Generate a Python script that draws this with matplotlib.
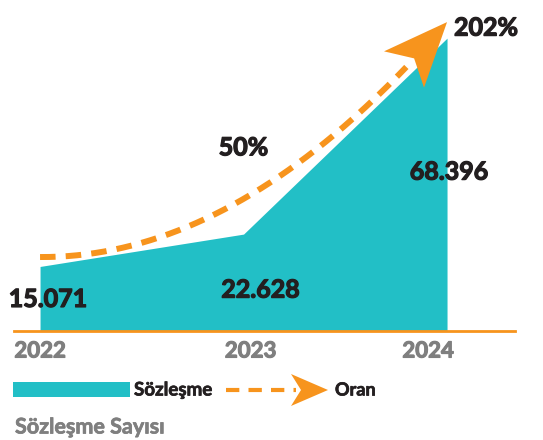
import numpy as np
import matplotlib
matplotlib.use("Agg")
from matplotlib import pyplot as plt
from matplotlib import patheffects as pe
from matplotlib.patches import Polygon, Rectangle
from matplotlib.transforms import IdentityTransform, offset_copy

years = ["2022", "2023", "2024"]
contracts = [15.071, 22.628, 68.396]
contract_labels = ["15.071", "22.628", "68.396"]
rates = [0, 50, 202]
rate_labels = ["", "50%", "202%"]

TEAL = "#22BFC6"
ORANGE = "#F7941D"
DARK = "#231F20"
GREY = "#7F7F7F"
W, H = 543, 440

plt.rcParams["font.family"] = ["Lato", "DejaVu Sans"]

fig = plt.figure(figsize=(W / 100, H / 100), dpi=100)
ax = fig.add_axes([14 / W, 109 / H, 501 / W, 331 / H])
ax2 = ax.twinx()

x = np.arange(len(years))
ax.fill_between(x, 0, contracts, color=TEAL, lw=0)
ax.set_xlim(-0.128, 2.334)
ax.set_ylim(0, 77.3)
ax2.set_ylim(-63.6, 221)

for a in (ax, ax2):
    a.set_axis_off()
ax.axhline(0, color=ORANGE, lw=2, clip_on=False)

# rate curve (quadratic through the three rate points)
coef = np.polyfit(x, rates, 2)
xs = np.linspace(0, 1.8, 200)
ax2.plot(xs, np.polyval(coef, xs), color=ORANGE, lw=4.3, dashes=(2.6, 1.7),
         solid_capstyle="butt", dash_capstyle="butt")


def stealth(tip, direction, length, half_w, notch):
    d = np.asarray(direction, float)
    d = d / np.hypot(*d)
    n = np.array([-d[1], d[0]])
    tip = np.asarray(tip, float)
    base = tip - d * length
    return [tip, base + n * half_w, tip - d * (length - notch), base - n * half_w]


# main arrowhead, in pixels
tip = ax2.transData.transform((2, rates[-1]))
p0 = ax2.transData.transform((1.8, np.polyval(coef, 1.8)))
head = stealth(tip, tip - p0, 64, 27, 15)
fig.add_artist(Polygon(head, closed=True, color=ORANGE, lw=0,
                       transform=IdentityTransform()))

thick = [pe.withStroke(linewidth=0.9, foreground=DARK)]
thick_grey = [pe.withStroke(linewidth=0.8, foreground=GREY)]

# value labels
bold = dict(fontweight="bold", color=DARK, fontsize=18, path_effects=thick)
val_offsets = [(8, -33), (17, -56), (2, -134)]
for xi, v, lab, (dx, dy) in zip(x, contracts, contract_labels, val_offsets):
    tr = offset_copy(ax.transData, fig=fig, x=dx, y=dy, units="dots")
    ax.text(xi, v, lab, transform=tr, ha="center", va="center", **bold)

rate_offsets = [(0, 0), (0, 51), (7, -6)]
rate_ha = ["center", "center", "left"]
for xi, r, lab, (dx, dy), ha in zip(x, rates, rate_labels, rate_offsets, rate_ha):
    if not lab:
        continue
    tr = offset_copy(ax2.transData, fig=fig, x=dx, y=dy, units="dots")
    ax2.text(xi, r, lab, transform=tr, ha=ha, va="center", **bold)

# year labels
year_offsets = [0, 7, -19]
for xi, lab, dx in zip(x, years, year_offsets):
    tr = offset_copy(ax.get_xaxis_transform(), fig=fig, x=dx, y=-20, units="dots")
    ax.text(xi, 0, lab, transform=tr, ha="center", va="center",
            fontsize=16, fontweight="bold", color=GREY, path_effects=thick_grey)


# legend
def px(xp, yp):
    return (xp / W, 1 - yp / H)


fig.add_artist(Rectangle(px(13, 397), 117 / W, 15 / H, color=TEAL, lw=0,
                         transform=fig.transFigure))
fig.text(*px(134, 390), "Sözleşme", fontsize=13.5, fontweight="bold",
         color=DARK, va="center",
         path_effects=[pe.withStroke(linewidth=0.5, foreground=DARK)])
fig.add_artist(plt.Line2D([226 / W, 296 / W], [1 - 390 / H] * 2, color=ORANGE,
                          lw=3, dashes=(3.2, 2.2), transform=fig.transFigure))
leg_head = stealth((328, H - 390), (1, 0), 37, 16, 10)
fig.add_artist(Polygon(leg_head, closed=True, color=ORANGE, lw=0,
                       transform=IdentityTransform()))
fig.text(*px(335, 390), "Oran", fontsize=13, fontweight="bold",
         color=DARK, va="center",
         path_effects=[pe.withStroke(linewidth=0.5, foreground=DARK)])

fig.text(*px(15, 427), "Sözleşme Sayısı", fontsize=15.5, fontweight="bold",
         color=GREY, va="center",
         path_effects=[pe.withStroke(linewidth=0.5, foreground=GREY)])

fig.savefig("out.png", dpi=100)
